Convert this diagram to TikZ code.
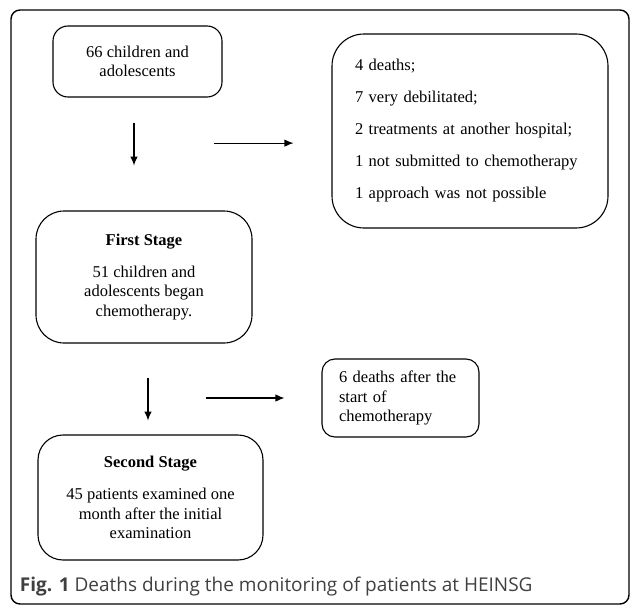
\documentclass[tikz,border=0pt]{standalone}
\usepackage{fontspec}
\setmainfont{Liberation Serif}
\newfontfamily\capfont{Open Sans}
\usetikzlibrary{arrows.meta}
\usetikzlibrary{positioning}

\begin{document}
\begin{tikzpicture}[x=1pt,y=-1pt,>={Latex[length=9pt,width=7.5pt]},line width=1.1pt,
  box/.style={draw, inner sep=0pt, align=center, font=\fontsize{16.5}{19.5}\selectfont}]
  \useasboundingbox (0,0) rectangle (630,605);
  \draw [line width=1.4pt, rounded corners=9pt] (11,10) rectangle (629,604);
  \node [box, rounded corners=15pt, minimum width=169pt, minimum height=71pt] (c) at (137.5,61.5) {66 children and\\adolescents};
  \node [box, rounded corners=32pt, minimum width=276pt, minimum height=194pt, text width=230pt, align=left] (x) at (470,131) {4 deaths;\\[12.5pt]7 very debilitated;\\[12.5pt]2 treatments at another hospital;\\[12.5pt]1 not submitted to chemotherapy\\[12.5pt]1 approach was not possible};
  \node [box, rounded corners=28pt, minimum width=216pt, minimum height=132pt] (f) at (144,277) {\textbf{First Stage}\\[12.5pt]51 children and\\adolescents began\\chemotherapy.};
  \node [box, rounded corners=13pt, minimum width=157pt, minimum height=78pt, text width=123pt, align=left] (d) at (400.5,398) {6 deaths after the\\start of\\chemotherapy};
  \node [box, rounded corners=25pt, minimum width=225pt, minimum height=125pt] (s) at (150.5,497.5) {\textbf{Second Stage}\\[12.5pt]45 patients examined one\\month after the initial\\examination};
  \node [anchor=west, font=\capfont\fontsize{19}{22}\selectfont, text=black!75] (cap) at (16,587) {\textbf{Fig. 1} Deaths during the monitoring of patients at HEINSG};
  \coordinate [below=25pt of c, xshift=-3.5pt] (c1);
  \coordinate [below=43pt of c1] (c2);
  \coordinate [left=38pt of x.185] (x2);
  \coordinate [left=79pt of x2] (x1);
  \coordinate [below=34pt of f, xshift=4pt] (f1);
  \coordinate [below=43pt of f1] (f2);
  \coordinate [left=37pt of d] (d2);
  \coordinate [left=78pt of d2] (d1);
  \draw [->] (c1) -- (c2);
  \draw [->] (x1) -- (x2);
  \draw [->] (f1) -- (f2);
  \draw [->] (d1) -- (d2);
\end{tikzpicture}
\end{document}
